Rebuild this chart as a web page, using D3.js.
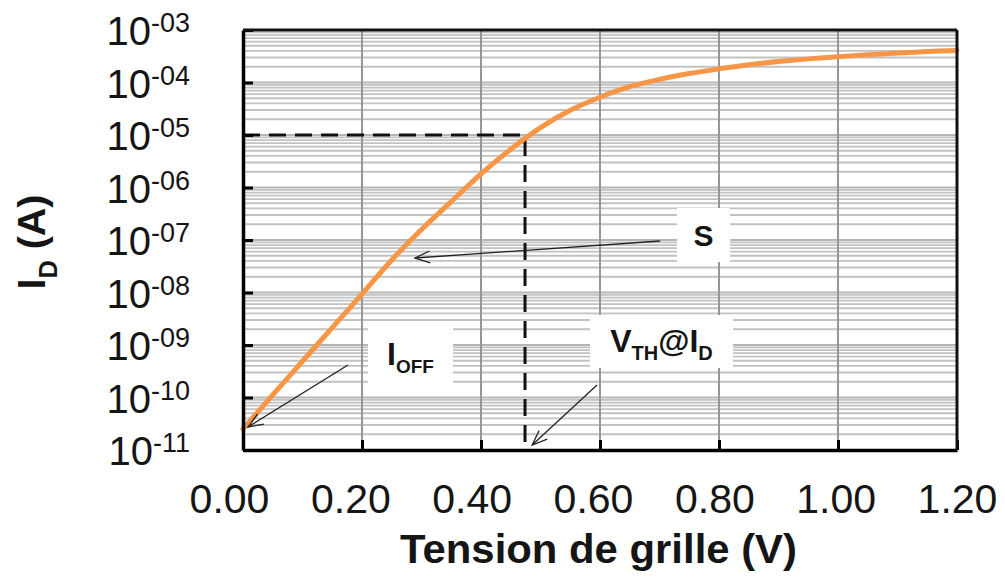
<!DOCTYPE html>
<html><head><meta charset="utf-8">
<script src="https://cdn.jsdelivr.net/npm/d3@7"></script>
<style>body{margin:0;background:#fff}svg{display:block}</style>
</head><body>
<svg id="c" width="1005" height="578"></svg>
<script>
// ---- data ----
const gateVoltage = [0,0.05,0.10,0.15,0.20,0.25,0.30,0.35,0.40,0.45,0.50,0.55,0.60,0.65,0.70,0.75,0.80,0.85,0.90,0.95,1.00,1.05,1.10,1.15,1.20];
const log10Current = [-10.60,-9.95,-9.31,-8.67,-8.03,-7.38,-6.80,-6.27,-5.74,-5.27,-4.86,-4.53,-4.28,-4.08,-3.94,-3.83,-3.74,-3.66,-3.60,-3.55,-3.51,-3.47,-3.44,-3.41,-3.39];
const xTickValues = [0,0.2,0.4,0.6,0.8,1.0,1.2];
const xTickLabels = ["0.00","0.20","0.40","0.60","0.80","1.00","1.20"];
const yTickExponents = [-3,-4,-5,-6,-7,-8,-9,-10,-11];
const yTickSuperscripts = ["-03","-04","-05","-06","-07","-08","-09","-10","-11"];
const xTitle = "Tension de grille (V)";
const vthVoltage = 0.474, vthCurrent = 1e-5;
// annotations (data coordinates)
const annotationNames = ["S","IOFF","VTH"];
const boxCenterV = [0.774, 0.2815, 0.7034];
const boxCenterLog = [-6.905, -9.171, -8.933];
const arrowFromV = [0.701, 0.1765, 0.595];
const arrowFromLog = [-7.019, -9.381, -9.762];
const arrowToV = [0.289, 0.0084, 0.486];
const arrowToLog = [-7.343, -10.562, -10.905];

// ---- layout ----
const W = 1005, H = 578;
const m = {left:243, right:W-957, top:30, bottom:H-450};
const svg = d3.select("#c");
const x = d3.scaleLinear().domain([0,1.2]).range([m.left, W-m.right]);
const y = d3.scaleLog().domain([1e-11,1e-3]).range([H-m.bottom, m.top]);
const ink = "#151515";

// gridlines: minor horizontal
const minor = [];
for (let e=-11; e<-3; e++) for (let k=2; k<=9; k++) minor.push(k*Math.pow(10,e));
const grid = svg.append("g");
grid.selectAll(".mn").data(minor).join("line")
  .attr("x1", x(0)).attr("x2", x(1.2))
  .attr("y1", d=>y(d)).attr("y2", d=>y(d))
  .attr("stroke", "#c2c2c2").attr("stroke-width", 1.9);
grid.selectAll(".mj").data(yTickExponents).join("line")
  .attr("x1", x(0)).attr("x2", x(1.2))
  .attr("y1", d=>y(Math.pow(10,d))).attr("y2", d=>y(Math.pow(10,d)))
  .attr("stroke", "#b5b5b5").attr("stroke-width", 1.8);
grid.selectAll(".vg").data(xTickValues.slice(1,-1)).join("line")
  .attr("x1", d=>x(d)).attr("x2", d=>x(d))
  .attr("y1", y(1e-3)).attr("y2", y(1e-11))
  .attr("stroke", "#969696").attr("stroke-width", 2);

// Vth dashed guide
svg.append("path")
  .attr("d", d3.line()([[x(0), y(vthCurrent)], [x(vthVoltage), y(vthCurrent)], [x(vthVoltage), y(1e-11)]]))
  .attr("fill","none").attr("stroke","#111").attr("stroke-width",3).attr("stroke-dasharray","17,9");

// curve
const pts = gateVoltage.map((v,i)=>({v, c:Math.pow(10, log10Current[i])}));
svg.append("path").datum(pts)
  .attr("d", d3.line().x(d=>x(d.v)).y(d=>y(d.c)).curve(d3.curveCatmullRom.alpha(0.5)))
  .attr("fill","none").attr("stroke","#F79646").attr("stroke-width",5).attr("stroke-linecap","round");

// annotation boxes
const boxSize = {S:[53,54], IOFF:[85,58], VTH:[143,53]};
annotationNames.forEach((n,i)=>{
  const cx = x(boxCenterV[i]), cy = y(Math.pow(10, boxCenterLog[i]));
  const [bw,bh] = boxSize[n];
  svg.append("rect").attr("x", cx-bw/2).attr("y", cy-bh/2).attr("width", bw).attr("height", bh).attr("fill","#fff");
});

// arrows
const defs = svg.append("defs");
defs.append("marker").attr("id","ah").attr("viewBox","-16 -7 18 14").attr("refX",0).attr("refY",0)
  .attr("markerWidth",18).attr("markerHeight",14).attr("markerUnits","userSpaceOnUse").attr("orient","auto")
  .append("path").attr("d","M-15,-6 L0,0 L-15,6").attr("fill","none").attr("stroke","#222").attr("stroke-width",1.3);
annotationNames.forEach((n,i)=>{
  svg.append("line")
    .attr("x1", x(arrowFromV[i])).attr("y1", y(Math.pow(10, arrowFromLog[i])))
    .attr("x2", x(arrowToV[i])).attr("y2", y(Math.pow(10, arrowToLog[i])))
    .attr("stroke","#222").attr("stroke-width",1.3).attr("marker-end","url(#ah)");
});

// annotation texts
const ff = "'Liberation Sans', Arial, sans-serif";
function boxText(i){
  return svg.append("text").attr("font-family", ff).attr("font-weight","bold").attr("fill", ink)
    .attr("text-anchor","middle")
    .attr("x", x(boxCenterV[i]));
}
boxText(0).attr("y", y(Math.pow(10,boxCenterLog[0]))+11).attr("font-size",30).text("S");
{
  const t = boxText(1).attr("y", y(Math.pow(10,boxCenterLog[1]))+11).attr("font-size",32);
  t.append("tspan").text("I");
  t.append("tspan").attr("font-size",19).attr("dy",8).text("OFF");
}
{
  const t = boxText(2).attr("y", y(Math.pow(10,boxCenterLog[2]))+11).attr("font-size",32);
  t.append("tspan").text("V");
  t.append("tspan").attr("font-size",20).attr("dy",8).text("TH");
  t.append("tspan").attr("dy",-8).text("@I");
  t.append("tspan").attr("font-size",20).attr("dy",8).text("D");
}

// axes
const xAxis = svg.append("g").attr("transform",`translate(0,${y(1e-11)})`)
  .call(d3.axisBottom(x).tickValues(xTickValues).tickSize(-10).tickSizeOuter(0).tickFormat((d,i)=>xTickLabels[i]));
xAxis.select(".domain").attr("stroke","#000").attr("stroke-width",3.5);
xAxis.selectAll(".tick line").attr("stroke","#000").attr("stroke-width",3);
xAxis.selectAll(".tick text").attr("font-family", ff).attr("font-size",41).attr("fill", ink)
  .attr("y", 63).attr("dy", 0)
  .attr("dx", (d,i)=> -14*(1 - i/(xTickValues.length-1)));

const yAxis = svg.append("g").attr("transform",`translate(${x(0)},0)`)
  .call(d3.axisLeft(y).tickValues(yTickExponents.map(e=>Math.pow(10,e))).tickSize(-10).tickSizeOuter(0).tickFormat(""));
yAxis.select(".domain").attr("stroke","#000").attr("stroke-width",3.5);
yAxis.selectAll(".tick line").attr("stroke","#000").attr("stroke-width",3);
yTickExponents.forEach((e,i)=>{
  const t = svg.append("text").attr("font-family", ff).attr("fill", ink).attr("text-anchor","end")
    .attr("x", 190).attr("y", y(Math.pow(10,e))+15).attr("font-size",40);
  t.append("tspan").text("10");
  t.append("tspan").attr("font-size",27).attr("dy",-13).text(yTickSuperscripts[i]);
});

// top and right frame
svg.append("line").attr("x1",x(0)).attr("x2",x(1.2)).attr("y1",y(1e-3)).attr("y2",y(1e-3)).attr("stroke","#111").attr("stroke-width",3);
svg.append("line").attr("x1",x(1.2)).attr("x2",x(1.2)).attr("y1",y(1e-3)).attr("y2",y(1e-11)).attr("stroke","#111").attr("stroke-width",3);

// axis titles (condensed bold)
{
  const t = svg.append("text").attr("font-family", ff).attr("font-weight","bold").attr("font-size",40)
    .attr("fill", ink).attr("text-anchor","middle").text(xTitle);
  const len = t.node().getComputedTextLength();
  t.attr("transform", `translate(${(400+797)/2},563) scale(${397/len},1)`);
}
{
  const t = svg.append("text").attr("font-family", ff).attr("font-weight","bold").attr("font-size",39)
    .attr("fill", ink).attr("text-anchor","middle");
  t.append("tspan").text("I");
  t.append("tspan").attr("font-size",25).attr("dy",12).text("D");
  t.append("tspan").attr("dy",-12).text(" (A)");
  const len = t.node().getComputedTextLength();
  t.attr("transform", `translate(45,242) rotate(-90) scale(${95/len},1)`);
}
</script>
</body></html>
